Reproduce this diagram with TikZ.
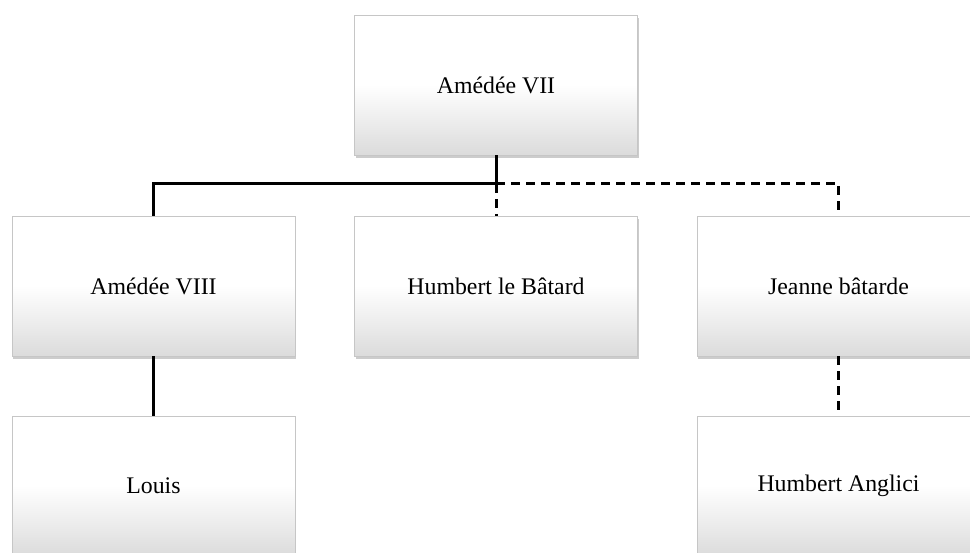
\documentclass[tikz,border=0pt]{standalone}
\usepackage{fontspec}
\setmainfont{Liberation Serif}
\usetikzlibrary{shadows}
\begin{document}
\begin{tikzpicture}[x=1pt,y=-1pt,
  person/.style={rectangle, minimum width=283pt, minimum height=140pt, inner sep=0pt,
    draw=gray!45, line width=0.7pt,
    top color=white, bottom color=gray!28, middle color=white,
    font=\fontsize{23.8}{28}\selectfont,
    drop shadow={opacity=0.4, shadow xshift=1pt, shadow yshift=-3pt}},
  link/.style={line width=3pt},
  dlink/.style={line width=3pt, dash pattern=on 9pt off 6pt}]
\useasboundingbox (0,0) rectangle (970,553);
\node[person] (top) at (496,85) {Amédée VII};
\node[person] (a8) at (153.5,286) {Amédée VIII};
\node[person] (hb) at (496,286) {Humbert le Bâtard};
\node[person] (jb) at (838.5,286) {Jeanne bâtarde};
\node[person] (louis) at (153.5,486) {Louis};
\node[person] (ha) at (838.5,486) {Humbert Anglici};
\coordinate (j) at (496,184);
\draw[link] (top.south) -- (j);
\draw[link] (j) -| (a8.north);
\draw[dlink] (j) -- (hb.north);
\draw[dlink] (j) -| (jb.north);
\draw[link] (a8.south) -- (louis.north);
\draw[dlink] (jb.south) -- (ha.north);
\end{tikzpicture}
\end{document}
